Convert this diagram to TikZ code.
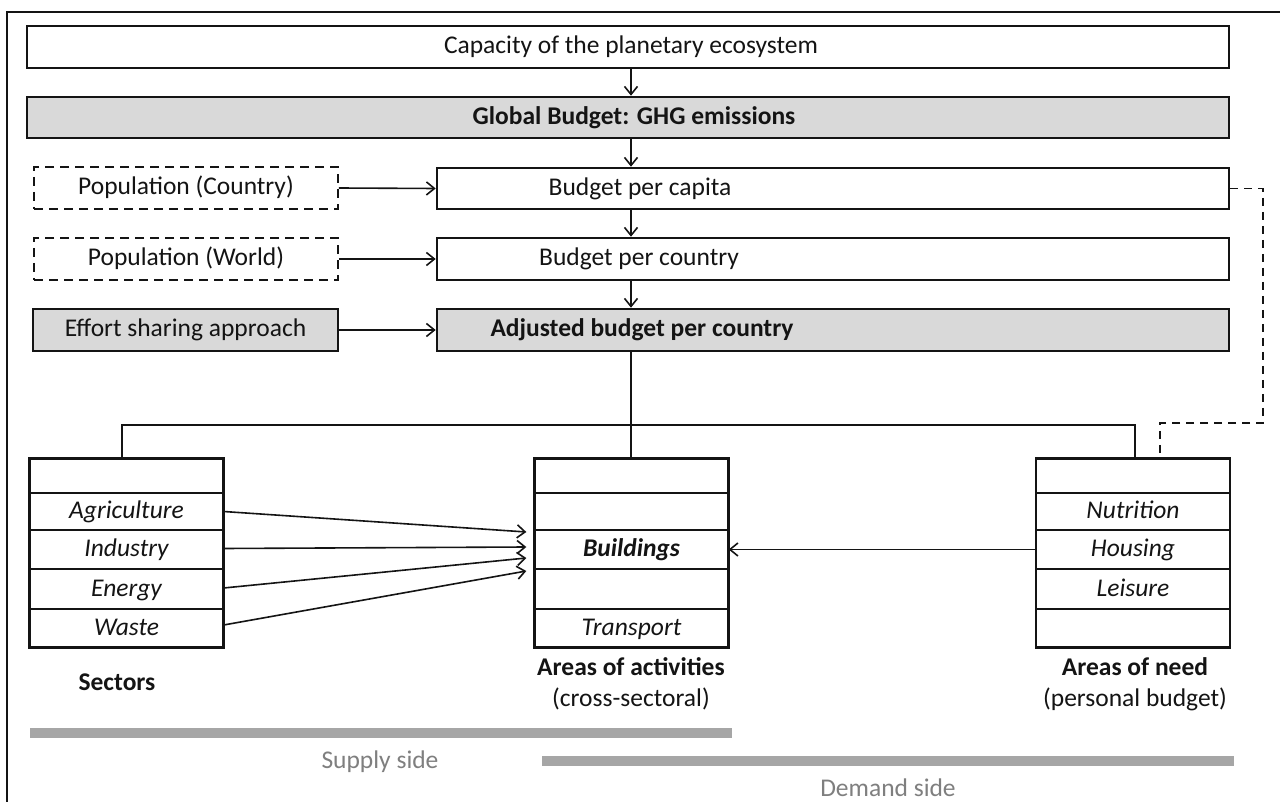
\documentclass[tikz,border=0pt]{standalone}
\usepackage{fontspec}
\setmainfont{Carlito}
\usetikzlibrary{arrows.meta}
\definecolor{boxgray}{HTML}{D9D9D9}
\definecolor{bargray}{HTML}{A6A6A6}
\definecolor{txtgray}{HTML}{7F7F7F}
\definecolor{ink}{HTML}{141414}
\begin{document}
\begin{tikzpicture}[x=1pt,y=-1pt,
  every node/.style={font=\fontsize{25.5}{31}\selectfont, text=ink, inner sep=0pt, text height=14pt, text depth=0pt},
  bigbox/.style={draw=ink, line width=2.6pt},
  graybox/.style={bigbox, fill=boxgray},
  dashbox/.style={draw=ink, line width=1.7pt, dash pattern=on 9pt off 6pt},
  conn/.style={draw=ink, line width=1.6pt},
  arr/.style={conn, -{Straight Barb[length=8pt,width=13pt,line width=1.6pt]}},
  cell/.style={draw=ink, line width=1.3pt, minimum width=193pt},
  frame/.style={draw=ink, line width=2.6pt},
  lab/.style={anchor=base},
  side/.style={anchor=base, text=txtgray},
  bar/.style={draw=bargray, line width=10pt},
]
\useasboundingbox (0,0) rectangle (1280,802);
\fill[white] (0,0) rectangle (1280,802);
\draw[ink, line width=1.2pt] (7,12) rectangle (1320,840);

% top chain
\node[bigbox, minimum width=1202pt, minimum height=42pt] (cap) at (628,47) {};
\node[lab] (capt) at (631,53.5) {Capacity of the planetary ecosystem};
\node[graybox, minimum width=1202pt, minimum height=41pt] (glob) at (628,117.5) {};
\node[lab] (globt) at (634,125) {\textbf{Global Budget: GHG emissions}};
\node[bigbox, minimum width=792pt, minimum height=41pt] (bpc) at (833,188.5) {};
\node[lab] (bpct) at (640,195.5) {Budget per capita};
\node[bigbox, minimum width=792pt, minimum height=42pt] (bpk) at (833,259) {};
\node[lab] (bpkt) at (639,266) {Budget per country};
\node[graybox, minimum width=792pt, minimum height=42pt] (adj) at (833,330) {};
\node[lab] (adjt) at (642,337) {\textbf{Adjusted budget per country}};

% left inputs
\node[dashbox, minimum width=304pt, minimum height=42pt] (popc) at (186,188) {Population (Country)};
\node[dashbox, minimum width=304pt, minimum height=42pt] (popw) at (186,259) {Population (World)};
\node[graybox, minimum width=305pt, minimum height=42pt] (eff) at (185.5,330) {Effort sharing approach};

\coordinate (mx) at (631,0);
\draw[arr] (cap.south -| mx) -- (glob.north -| mx);
\draw[arr] (glob.south -| mx) -- (bpc.north -| mx);
\draw[arr] (bpc.south -| mx) -- (bpk.north -| mx);
\draw[arr] (bpk.south -| mx) -- (adj.north -| mx);
\draw[arr] (popc.east) -- (bpc.west);
\draw[arr] (popw.east) -- (bpk.west);
\draw[arr] (eff.east) -- (adj.west);

% tables
\foreach \nm/\cx in {s/126.5, a/631.5, n/1133}{
  \node[cell, minimum height=34pt] (\nm1) at (\cx,476) {};
  \node[cell, minimum height=37pt] (\nm2) at (\cx,511.5) {};
  \node[cell, minimum height=39pt] (\nm3) at (\cx,549.5) {};
  \node[cell, minimum height=40pt] (\nm4) at (\cx,589) {};
  \node[cell, minimum height=38pt] (\nm5) at (\cx,628) {};
  \draw[frame] (\nm1.north west) rectangle (\nm5.south east);
}
\node[font=\fontsize{25.5}{31}\selectfont\itshape] at (s2) {Agriculture};
\node[font=\fontsize{25.5}{31}\selectfont\itshape] at (s3) {Industry};
\node[font=\fontsize{25.5}{31}\selectfont\itshape] at (s4) {Energy};
\node[font=\fontsize{25.5}{31}\selectfont\itshape] at (s5) {Waste};
\node[font=\fontsize{25.5}{31}\selectfont\bfseries\itshape] at (a3) {Buildings};
\node[font=\fontsize{25.5}{31}\selectfont\itshape] at (a5) {Transport};
\node[font=\fontsize{25.5}{31}\selectfont\itshape] at (n2) {Nutrition};
\node[font=\fontsize{25.5}{31}\selectfont\itshape] at (n3) {Housing};
\node[font=\fontsize{25.5}{31}\selectfont\itshape] at (n4) {Leisure};

% tree connectors
\coordinate (jl) at (122,425);
\coordinate (jr) at (1135,425);
\draw[conn] (adj.south -| mx) -- (a1.north -| mx);
\draw[conn] (jl |- s1.north) -- (jl) -- (jr) -- (jr |- n1.north);
\coordinate (dr) at (1263,423);
\coordinate (dd) at (1160,423);
\draw[conn, dash pattern=on 8pt off 6pt] (bpc.east) -| (dr) -- (dd) -- (dd |- n1.north);

% flows into activities
\draw[arr] (s2.east) -- ([xshift=-8pt,yshift=17.5pt]a3.west);
\draw[arr] ([yshift=1pt]s3.east) -- ([xshift=-8pt,yshift=2.5pt]a3.west);
\draw[arr] ([yshift=1pt]s4.east) -- ([xshift=-8pt,yshift=-8.5pt]a3.west);
\draw[arr] ([yshift=3pt]s5.east) -- ([xshift=-8pt,yshift=-21.5pt]a3.west);
\draw[arr] (n3.west) -- (a3.east);

% labels
\node[lab] (secl) at (117,690.5) {\textbf{Sectors}};
\node[lab] (actl) at (631,675.5) {\textbf{Areas of activities}};
\node[lab] (act2) at (631,706) {(cross-sectoral)};
\node[lab] (needl) at (1135,675.5) {\textbf{Areas of need}};
\node[lab] (need2) at (1135,706) {(personal budget)};

% supply / demand
\draw[bar] (30,733) -- (732,733);
\draw[bar] (542,761) -- (1234,761);
\node[side] (sup) at (380,768) {Supply side};
\node[side] (dem) at (888,796) {Demand side};
\end{tikzpicture}
\end{document}
